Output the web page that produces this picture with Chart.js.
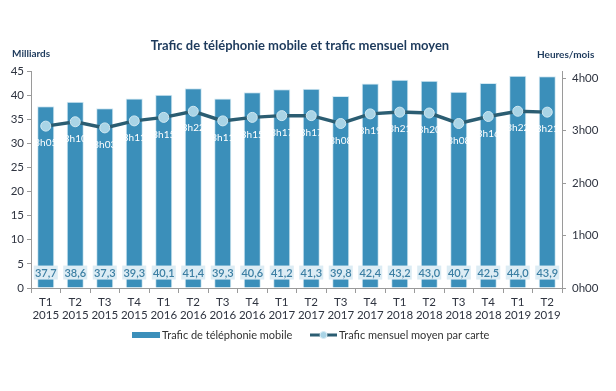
<!DOCTYPE html>
<html><head><meta charset="utf-8">
<script src="https://cdn.jsdelivr.net/npm/chart.js@4/dist/chart.umd.min.js"></script>
<style>html,body{margin:0;padding:0;background:#fff}#wrap{width:616px;height:391px}</style>
</head><body><div id="wrap"><canvas id="c" width="616" height="391"></canvas></div>
<script>
const quarters = ["T1","T2","T3","T4","T1","T2","T3","T4","T1","T2","T3","T4","T1","T2","T3","T4","T1","T2"];
const years = ["2015","2015","2015","2015","2016","2016","2016","2016","2017","2017","2017","2017","2018","2018","2018","2018","2019","2019"];
const trafficBillions = [37.7,38.6,37.3,39.3,40.1,41.4,39.3,40.6,41.2,41.3,39.8,42.4,43.2,43.0,40.7,42.5,44.0,43.9];
const monthlyMinutes = [185,190,183,191,195,202,191,195,197,197,188,199,201,200,188,196,202,201];
const leftTicks = [0,5,10,15,20,25,30,35,40,45];
const rightTicksMinutes = [0,60,120,180,240];

const FONT = "Lato, 'Open Sans', sans-serif";
const BAR = '#3b8fba', LINE = '#2b5d72', DOT = '#a9d4e6', NAVY = '#1d3a5c';

function fmtHM(m){ const h=Math.floor(m/60), mm=m%60; return h+'h'+String(mm).padStart(2,'0'); }

const labelsPlugin = {
  id:'labels',
  afterDatasetsDraw(chart){
    const ctx = chart.ctx;
    const pts = chart.getDatasetMeta(0).data;
    const bars = chart.getDatasetMeta(1).data;
    const yL = chart.scales.y;
    ctx.save();
    ctx.font = "600 11px " + FONT;
    ctx.textAlign='center'; ctx.textBaseline='middle';
    bars.forEach((b,i)=>{
      const cy = yL.getPixelForValue(3.2);
      ctx.fillStyle = '#dcecf4';
      ctx.fillRect(b.x-12, cy-7, 24, 14);
      ctx.fillStyle = '#3c7fa3';
      ctx.fillText(trafficBillions[i].toFixed(1).replace('.',','), b.x, cy+0.5);
    });
    ctx.font = "10px " + FONT;
    ctx.fillStyle = '#ffffff';
    pts.forEach((p,i)=>{
      ctx.fillText(fmtHM(monthlyMinutes[i]), p.x, p.y+17);
    });
    ctx.restore();
  },
  afterDraw(chart){
    const ctx = chart.ctx;
    ctx.save();
    ctx.fillStyle = NAVY;
    ctx.textBaseline='middle';
    ctx.font = "bold 13px " + FONT;
    ctx.textAlign='center';
    ctx.fillText("Trafic de téléphonie mobile et trafic mensuel moyen", 300, 46);
    ctx.font = "bold 10px " + FONT;
    ctx.textAlign='left';
    ctx.fillText("Milliards", 12, 54);
    ctx.fillText("Heures/mois", 537, 55);
    ctx.font = "11px " + FONT;
    ctx.fillStyle = BAR;
    ctx.fillRect(132, 332, 28, 6);
    ctx.fillStyle = '#333';
    ctx.fillText("Trafic de téléphonie mobile", 162, 335);
    ctx.strokeStyle = LINE; ctx.lineWidth = 3;
    ctx.beginPath(); ctx.moveTo(310,335); ctx.lineTo(337,335); ctx.stroke();
    ctx.fillStyle = DOT; ctx.strokeStyle='#d6ecf5'; ctx.lineWidth=1;
    ctx.beginPath(); ctx.arc(323.5,335,3.5,0,Math.PI*2); ctx.fill(); ctx.stroke();
    ctx.fillStyle = '#333';
    ctx.fillText("Trafic mensuel moyen par carte", 339, 335);
    ctx.restore();
  }
};

new Chart(document.getElementById('c'), {
  data: {
    labels: quarters.map((q,i)=>[q, years[i]]),
    datasets: [
      { type:'line', label:'Trafic mensuel moyen par carte', data: monthlyMinutes, yAxisID:'y2',
        borderColor: LINE, borderWidth: 3.5, pointRadius: 5, pointHoverRadius:5,
        pointBackgroundColor: DOT, pointBorderColor: '#cfe8f2', pointBorderWidth: 1, tension: 0, order: 0 },
      { type:'bar', label:'Trafic de téléphonie mobile', data: trafficBillions, yAxisID:'y',
        backgroundColor: BAR, borderColor: '#d3e9f3', borderWidth: {top:1,left:1,right:1,bottom:0},
        barPercentage: 0.58, categoryPercentage: 1, order: 1 }
    ]
  },
  options: {
    responsive:false, animation:false, devicePixelRatio:1,
    layout:{ padding:{ top:71, left:0, right:0, bottom:0 } },
    plugins:{ legend:{display:false}, title:{display:false}, tooltip:{enabled:false} },
    scales:{
      x:{ offset:true,
        grid:{ offset:true, drawOnChartArea:false, tickLength:5, color:'#9a9a9a' },
        border:{ color:'#9a9a9a' },
        ticks:{ color:'#2f3440', font:{ family:FONT, size:11.5 }, maxRotation:0, autoSkip:false, padding:2 },
        afterFit(s){ s.height = 103; } },
      y:{ position:'left', min:0, max:45,
        afterBuildTicks(s){ s.ticks = leftTicks.map(v=>({value:v})); },
        grid:{ drawOnChartArea:false, tickLength:4, color:'#9a9a9a' },
        border:{ color:'#9a9a9a' },
        ticks:{ color:'#2f3440', font:{ family:FONT, size:11.5 }, padding:3 },
        afterFit(s){ s.width = 31; } },
      y2:{ position:'right', min:0, max:248,
        afterBuildTicks(s){ s.ticks = rightTicksMinutes.map(v=>({value:v})); },
        grid:{ drawOnChartArea:false, tickLength:4, color:'#9a9a9a' },
        border:{ color:'#9a9a9a' },
        ticks:{ color:'#2f3440', font:{ family:FONT, size:11.5 }, padding:6, callback:(v)=>fmtHM(v) },
        afterFit(s){ s.width = 54; } }
    }
  },
  plugins:[labelsPlugin]
});
</script></body></html>
